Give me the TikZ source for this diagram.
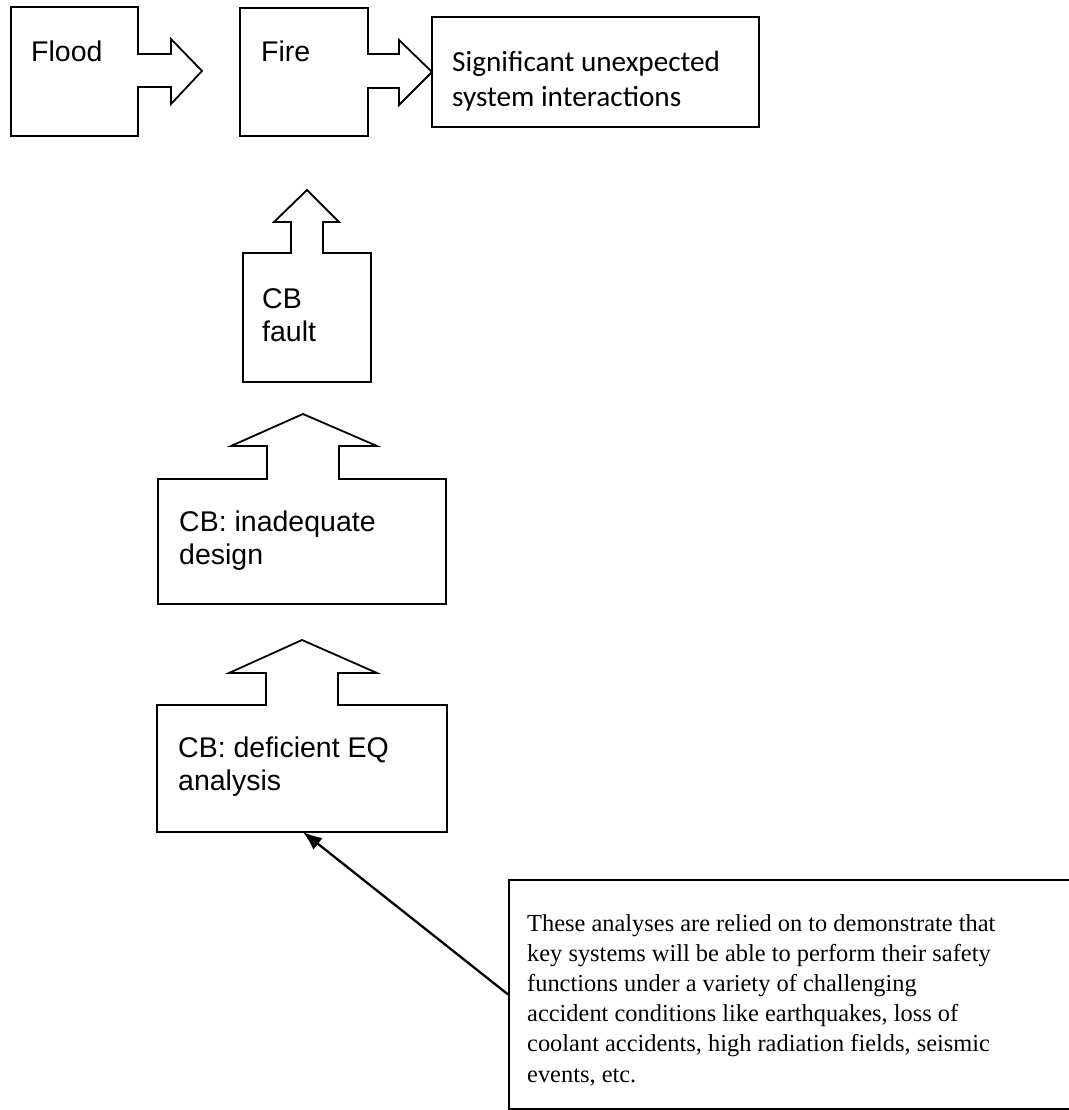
\documentclass[tikz,border=0pt]{standalone}
\usepackage{fontspec}
\setmainfont{Liberation Serif}
\newfontfamily\arialf{Liberation Sans}
\newfontfamily\calibrif{Carlito}
\usetikzlibrary{arrows.meta}
\tikzset{
  blockshape/.style={draw=black, line width=1.8pt, line join=miter},
  sanslabel/.style={inner sep=0pt, anchor=base west, align=left, font=\arialf\fontsize{28.5}{33}\selectfont},
  callabel/.style={inner sep=0pt, anchor=base west, align=left, font=\calibrif\fontsize{29.2}{34.5}\selectfont},
  notebox/.style={draw=black, line width=1.8pt, inner sep=0pt, anchor=north west},
  notetext/.style={inner sep=0pt, anchor=base west, align=left, font=\fontsize{24.4}{30.2}\selectfont},
  pointer/.style={draw=black, line width=2.3pt, -{Latex[length=19pt,width=15pt]}}
}
\begin{document}
\begin{tikzpicture}[x=1pt,y=-1pt]
\useasboundingbox (0,0) rectangle (1068,1110);
% Flood
\draw[blockshape] (11,7) -- (138,7) -- (138,54) -- (171,54) -- (171,39) -- (202,71) -- (171,104) -- (171,87) -- (138,87) -- (138,136) -- (11,136) -- cycle;
\node[sanslabel] (flood) at (31,62) {Flood};
% Fire
\draw[blockshape] (240,8) -- (368,8) -- (368,54) -- (399,54) -- (399,40) -- (432,72) -- (399,105) -- (399,88) -- (368,88) -- (368,136) -- (240,136) -- cycle;
\node[sanslabel] (fire) at (261,62) {Fire};
% Significant
\draw[blockshape] (432,17) rectangle (759,127);
\node[callabel] (sig) at (452,106.5) {Significant unexpected\\system interactions};
% CB fault
\draw[blockshape] (243,382) -- (243,253) -- (291,253) -- (291,222) -- (274,222) -- (307,190) -- (339,222) -- (323,222) -- (323,253) -- (371,253) -- (371,382) -- cycle;
\node[sanslabel] (fault) at (262,341) {CB\\fault};
% CB inadequate design
\draw[blockshape] (158,604) -- (158,479) -- (267,479) -- (267,446) -- (231,446) -- (303,414) -- (377,446) -- (339,446) -- (339,479) -- (446,479) -- (446,604) -- cycle;
\node[sanslabel] (design) at (179,564) {CB: inadequate\\design};
% CB deficient EQ analysis
\draw[blockshape] (157,832) -- (157,705) -- (266,705) -- (266,673) -- (229,673) -- (302,640) -- (377,673) -- (338,673) -- (338,705) -- (447,705) -- (447,832) -- cycle;
\node[sanslabel] (eq) at (178,790) {CB: deficient EQ\\analysis};
\coordinate (eqbottom) at (303,832);
% Note
\node[notebox, minimum width=570pt, minimum height=229pt] (note) at (508,879) {};
\node[notetext] (notetxt) at (527,1082) {These analyses are relied on to demonstrate that\\key systems will be able to perform their safety\\functions under a variety of challenging\\accident conditions like earthquakes, loss of\\coolant accidents, high radiation fields, seismic\\events, etc.};
\draw[pointer] (note.west) -- (eqbottom);
\end{tikzpicture}
\end{document}
